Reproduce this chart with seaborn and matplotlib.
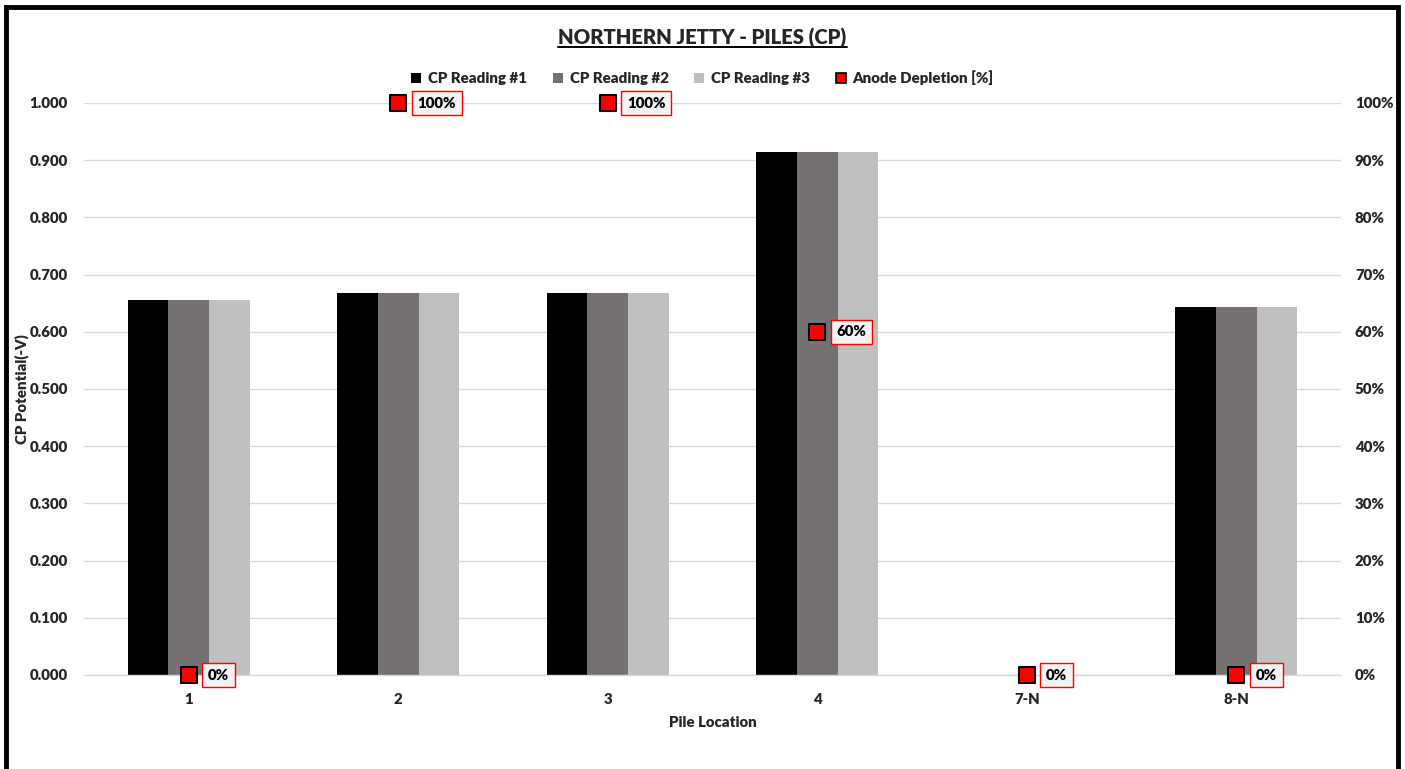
import numpy as np
import pandas as pd
import matplotlib
matplotlib.use("Agg")
import matplotlib.pyplot as plt
import seaborn as sns
from matplotlib.patches import Patch, Rectangle
from matplotlib.lines import Line2D

# ---- data ----
piles = ["1", "2", "3", "4", "7-N", "8-N"]
reading_1 = [0.655, 0.667, 0.667, 0.915, np.nan, 0.643]
reading_2 = [0.656, 0.668, 0.668, 0.914, np.nan, 0.643]
reading_3 = [0.655, 0.668, 0.668, 0.915, np.nan, 0.643]
depletion_pct = [0, 100, 100, 60, 0, 0]

series_names = ["CP Reading #1", "CP Reading #2", "CP Reading #3"]
series_colors = ["#000000", "#767171", "#bfbfbf"]
depletion_name = "Anode Depletion [%]"

df = pd.DataFrame({
    "pile": piles * 3,
    "reading": sum([[n] * len(piles) for n in series_names], []),
    "potential": reading_1 + reading_2 + reading_3,
})

sns.set_theme(style="white")
plt.rcParams["font.family"] = ["Lato", "DejaVu Sans"]
WT = "heavy"
plt.rcParams["font.weight"] = WT

FS = 10.8  # base text size

W, H = 1405, 769
fig = plt.figure(figsize=(W / 100, H / 100), dpi=100)
fig.patch.set_facecolor("white")

x0, x1, ytop, ybot = 84, 1341, 103, 675
ax = fig.add_axes([x0 / W, (H - ybot) / H, (x1 - x0) / W, (ybot - ytop) / H])

sns.barplot(data=df, x="pile", y="potential", hue="reading", order=piles,
            hue_order=series_names, palette=series_colors, width=0.58, gap=0,
            saturation=1, linewidth=0, errorbar=None, legend=False, ax=ax)

ax.set_xlim(-0.5, len(piles) - 0.5)
ax.set_ylim(0, 1.0)
ax.set_yticks(np.arange(0, 1.001, 0.1))
ax.set_yticklabels([f"{v:.3f}" for v in np.arange(0, 1.001, 0.1)])
ax.grid(axis="y", color="#d9d9d9", linewidth=1)
ax.grid(axis="x", visible=False)
ax.set_axisbelow(True)
for s in ["top", "left", "right"]:
    ax.spines[s].set_visible(False)
ax.spines["bottom"].set_color("#d9d9d9")
ax.spines["bottom"].set_linewidth(1)
ax.set_xticks(np.arange(-0.5, len(piles), 1), minor=True)
ax.tick_params(axis="x", which="minor", length=5, width=1, color="#d9d9d9", direction="out")
ax.tick_params(axis="x", which="major", length=0, pad=13, labelsize=FS)
ax.tick_params(axis="y", length=0, pad=11.5, labelsize=FS)
for t in ax.get_xticklabels() + ax.get_yticklabels():
    t.set_fontweight(WT)
ax.set_xlabel("Pile Location", fontsize=FS, fontweight=WT, labelpad=7)
ax.set_ylabel("CP Potential(-V)", fontsize=FS, fontweight=WT)
ax.yaxis.set_label_coords((29 - x0) / (x1 - x0), 0.5)

# secondary axis: anode depletion
ax2 = ax.twinx()
ax2.set_ylim(0, 100)
ax2.set_yticks(np.arange(0, 101, 10))
ax2.set_yticklabels([f"{v}%" for v in range(0, 101, 10)])
ax2.tick_params(axis="y", length=0, pad=10, labelsize=FS)
for t in ax2.get_yticklabels():
    t.set_fontweight(WT)
for s in ax2.spines.values():
    s.set_visible(False)
ax2.patch.set_visible(False)
ax2.grid(False)

sns.scatterplot(x=np.arange(len(piles)), y=depletion_pct, marker="s", s=140,
                color="#ff0000", edgecolor="black", linewidth=1.5,
                clip_on=False, zorder=5, legend=False, ax=ax2)
for i, v in enumerate(depletion_pct):
    ax2.annotate(f"{v}%", (i, v), xytext=(14, 0), textcoords="offset points",
                 ha="left", va="center", fontsize=FS, fontweight=WT,
                 color="black", annotation_clip=False, zorder=6,
                 bbox=dict(boxstyle="square,pad=0.38", fc="#f2f2f2",
                           ec="#ff0000", lw=1))

# legend
handles = [Patch(facecolor=c, edgecolor="none") for c in series_colors]
handles.append(Patch(facecolor="#ff0000", edgecolor="black", linewidth=1.2))
fig.legend(handles, series_names + [depletion_name], loc="center",
           bbox_to_anchor=(0.5, 1 - 78 / H), ncol=4, frameon=False,
           handlelength=0.68, handleheight=0.68, handletextpad=0.45,
           columnspacing=1.7, prop={"size": FS, "weight": WT})

# title with underline
title = fig.text(0.5, 1 - 38 / H, "NORTHERN JETTY - PILES (CP)", ha="center",
                 va="center", fontsize=14.6, fontweight=WT)
fig.canvas.draw()
bb = title.get_window_extent()
uy = (bb.y0 + 1) / H
fig.add_artist(Line2D([bb.x0 / W, bb.x1 / W], [uy, uy], color="black",
                      linewidth=1.4, transform=fig.transFigure))

# outer frame
fig.add_artist(Rectangle((6 / W, -0.05), (1398 - 6) / W, 1.05 - 7 / H,
                         fill=False, edgecolor="black", linewidth=3.5,
                         transform=fig.transFigure, clip_on=False))

fig.savefig("out.png", dpi=100)
